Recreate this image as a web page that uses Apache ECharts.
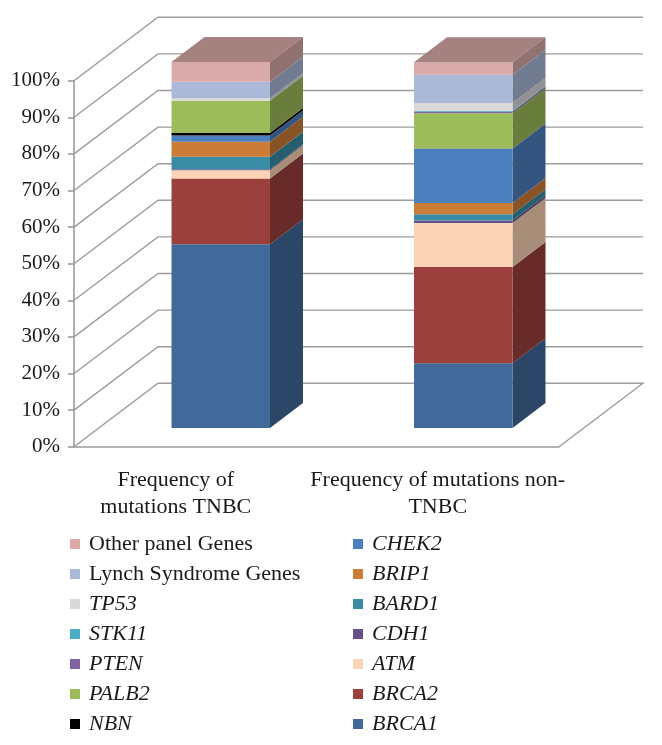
<!DOCTYPE html>
<html>
<head>
<meta charset="utf-8">
<style>
  html, body { margin: 0; padding: 0; background: #fff; }
  #chart { width: 662px; height: 745px; }
</style>
<script src="https://cdn.jsdelivr.net/npm/echarts@6/dist/echarts.min.js"></script>
</head>
<body>
<div id="chart"></div>
<script>
var categories = ["Frequency of\nmutations TNBC", "Frequency of mutations non-\nTNBC"];
var yTicks = [0, 10, 20, 30, 40, 50, 60, 70, 80, 90, 100];

// stacked bottom to top, values in percent
var genes = ["BRCA1", "BRCA2", "ATM", "CDH1", "BARD1", "BRIP1", "CHEK2", "NBN", "PALB2", "PTEN", "STK11", "TP53", "Lynch Syndrome Genes", "Other panel Genes"];
var tnbc = [50.2, 18.0, 2.2, 0.3, 3.4, 4.1, 1.7, 0.7, 8.8, 0, 0, 0.7, 4.5, 5.4];
var nonTnbc = [17.7, 26.3, 12.0, 0.7, 1.7, 3.1, 14.8, 0.1, 9.6, 0.4, 0.2, 2.2, 7.7, 3.4];
var colors = ["#41699A", "#9B403D", "#FBD4B5", "#67508A", "#3A8CA5", "#CB7C37", "#4C7FBE", "#000000", "#9CBB5A", "#8064A2", "#4BACC6", "#D9D9D9", "#AAB9D8", "#D9AAA9"];

var legendLeft = ["Other panel Genes", "Lynch Syndrome Genes", "TP53", "STK11", "PTEN", "PALB2", "NBN"];
var legendRight = ["CHEK2", "BRIP1", "BARD1", "CDH1", "ATM", "BRCA2", "BRCA1"];

var FONT = "'Liberation Serif', serif";
var GRID_COLOR = "#9c9c9c";
// fake 3d offsets, px
var WALL_DX = 84, WALL_DY = 63.4;
var FLOOR_DX = 25.5, FLOOR_DY = 18.7;
var BAR_DX = 33, BAR_DY = 25;

function shade(hex, k) {
  var n = parseInt(hex.slice(1), 16);
  var r = Math.round((n >> 16) * k);
  var g = Math.round(((n >> 8) & 255) * k);
  var b = Math.round((n & 255) * k);
  return "rgb(" + r + "," + g + "," + b + ")";
}

function renderWall(params, api) {
  var band = api.size([1, 0])[0];
  var p = api.coord([0, api.value(1)]);
  var x0 = p[0] - band / 2;
  var x1 = x0 + band * categories.length;
  var y = p[1];
  var pts = [[x0, y], [x0 + WALL_DX, y - WALL_DY], [x1 + WALL_DX, y - WALL_DY]];
  if (api.value(1) === 0) pts.push([x1, y]);
  return {
    type: "polyline",
    shape: { points: pts },
    style: { fill: null, stroke: GRID_COLOR, lineWidth: 1.4 }
  };
}

function makeBar(color, isTop) {
  return function (params, api) {
    var start = api.value(1), end = api.value(2);
    if (end <= start) return null;
    var band = api.size([1, 0])[0];
    var w = band * 0.406;
    var low = api.coord([api.value(0), start]);
    var high = api.coord([api.value(0), end]);
    var x0 = low[0] - w / 2 + FLOOR_DX;
    var x1 = x0 + w;
    var y0 = low[1] - FLOOR_DY;
    var y1 = high[1] - FLOOR_DY;
    var kids = [
      {
        type: "polygon",
        shape: { points: [[x1, y0], [x1 + BAR_DX, y0 - BAR_DY], [x1 + BAR_DX, y1 - BAR_DY], [x1, y1]] },
        style: { fill: shade(color, 0.67) }
      },
      {
        type: "rect",
        shape: { x: x0, y: y1, width: w, height: y0 - y1 },
        style: { fill: color }
      }
    ];
    if (isTop) {
      kids.push({
        type: "polygon",
        shape: { points: [[x0, y1], [x1, y1], [x1 + BAR_DX, y1 - BAR_DY], [x0 + BAR_DX, y1 - BAR_DY]] },
        style: { fill: shade(color, 0.76) }
      });
    }
    return { type: "group", children: kids };
  };
}

var series = [{
  name: "walls",
  type: "custom",
  renderItem: renderWall,
  encode: { x: 0, y: 1 },
  silent: true,
  data: yTicks.map(function (v) { return [0, v]; })
}];

var sumA = 0, sumB = 0;
genes.forEach(function (name, i) {
  series.push({
    name: name,
    type: "custom",
    renderItem: makeBar(colors[i], i === genes.length - 1),
    itemStyle: { color: colors[i] },
    encode: { x: 0, y: [1, 2] },
    data: [
      [0, sumA, sumA + tnbc[i]],
      [1, sumB, sumB + nonTnbc[i]]
    ]
  });
  sumA += tnbc[i];
  sumB += nonTnbc[i];
});

function legendItems(names) {
  return names.map(function (n) {
    var plain = n.indexOf("Genes") > -1;
    return { name: n, textStyle: { fontStyle: plain ? "normal" : "italic" } };
  });
}

function makeLegend(names, left) {
  return {
    orient: "vertical",
    left: left,
    top: 533,
    padding: 0,
    itemWidth: 10,
    itemHeight: 10,
    itemGap: 8,
    icon: "rect",
    selectedMode: false,
    data: legendItems(names),
    textStyle: { fontFamily: FONT, fontSize: 22, lineHeight: 20, color: "#1a1a1a", padding: [0, 0, 0, 4] }
  };
}

var chart = echarts.init(document.getElementById("chart"));
chart.setOption({
  animation: false,
  backgroundColor: "#fff",
  grid: { left: 74, top: 80.7, width: 485, height: 366 },
  xAxis: {
    type: "category",
    data: categories,
    axisLine: { lineStyle: { color: GRID_COLOR, width: 1.6 } },
    axisTick: { length: 5, lineStyle: { color: GRID_COLOR, width: 1.6 } },
    axisLabel: {
      margin: 20,
      interval: 0,
      formatter: function (value) {
        var tag = value === categories[0] ? "a" : "b";
        return value.split("\n").map(function (l) { return "{" + tag + "|" + l + "}"; }).join("\n");
      },
      rich: {
        a: { fontFamily: FONT, fontSize: 22, lineHeight: 27, color: "#1a1a1a", padding: [0, 39, 0, 0] },
        b: { fontFamily: FONT, fontSize: 22, lineHeight: 27, color: "#1a1a1a" }
      }
    }
  },
  yAxis: {
    type: "value",
    min: 0,
    max: 100,
    interval: 10,
    splitLine: { show: false },
    axisLine: { show: true, lineStyle: { color: GRID_COLOR, width: 1.6 } },
    axisTick: { show: true, length: 6, lineStyle: { color: GRID_COLOR, width: 1.6 } },
    axisLabel: {
      margin: 14,
      formatter: "{value}%",
      fontFamily: FONT,
      fontSize: 21,
      color: "#1a1a1a"
    }
  },
  legend: [makeLegend(legendLeft, 70), makeLegend(legendRight, 353)],
  // the reference is cut off right under the last legend row
  graphic: [{
    type: "rect",
    z: 1000,
    shape: { x: 0, y: 732, width: 662, height: 13 },
    style: { fill: "#fff" }
  }],
  series: series
});
</script>
</body>
</html>
